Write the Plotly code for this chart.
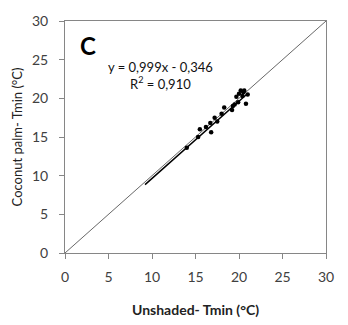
import plotly.graph_objects as go

unshaded = [14.0, 15.3, 15.5, 16.2, 16.7, 16.8, 17.2, 17.5, 18.0, 18.3, 19.2, 19.3, 19.5, 19.7, 19.9, 20.0, 20.2, 20.4, 20.5, 20.8, 21.0, 20.6]
coconut = [13.6, 15.0, 16.0, 16.3, 16.8, 15.6, 17.5, 17.0, 18.0, 18.8, 18.5, 19.0, 19.2, 20.2, 19.5, 20.6, 21.0, 20.3, 20.8, 19.3, 20.5, 21.0]
slope, intercept = 0.999, -0.346
trend_x = [9.2, 21.0]
one_to_one = [0, 30]
ticks = [0, 5, 10, 15, 20, 25, 30]

fig = go.Figure()
fig.add_trace(go.Scatter(x=one_to_one, y=one_to_one, mode="lines",
                         line=dict(color="#404040", width=0.8), showlegend=False))
fig.add_trace(go.Scatter(x=trend_x, y=[slope * v + intercept for v in trend_x], mode="lines",
                         line=dict(color="black", width=1.5), showlegend=False))
fig.add_trace(go.Scatter(x=unshaded, y=coconut, mode="markers",
                         marker=dict(color="black", size=4.5), showlegend=False))

font_fam = "Lato, 'Open Sans', sans-serif"
axis_common = dict(range=[0, 30], tickvals=ticks, showgrid=False, zeroline=False,
                   showline=True, linecolor="#868686", linewidth=1, mirror=True,
                   ticks="outside", ticklen=5, tickcolor="#868686",
                   tickfont=dict(size=14, color="#404040", family=font_fam))
fig.update_xaxes(**axis_common, ticklabelstandoff=6)
fig.update_yaxes(**axis_common, ticklabelstandoff=8,
                 title=dict(text="Coconut palm- Tmin (°C)", font=dict(size=13, color="#222", family=font_fam), standoff=6))

fig.add_annotation(x=0.5, y=-0.245, xref="paper", yref="paper", text="<b>Unshaded- Tmin (°C)</b>",
                   showarrow=False, font=dict(size=14, color="#222", family=font_fam),
                   xanchor="center", yanchor="middle")
fig.add_annotation(x=0.09, y=0.893, xref="paper", yref="paper", text="<b>C</b>", showarrow=False,
                   font=dict(size=24, color="black", family=font_fam), xanchor="center", yanchor="middle")
fig.add_annotation(x=0.364, y=0.766, xref="paper", yref="paper",
                   text="y = 0,999x - 0,346<br>R<sup>2</sup> = 0,910", showarrow=False,
                   font=dict(size=13, color="#111", family=font_fam), align="center",
                   xanchor="center", yanchor="middle")

fig.update_layout(width=348, height=325, margin=dict(l=65, r=22, t=14, b=72),
                  plot_bgcolor="white", paper_bgcolor="white")
fig.write_html("out.html")
